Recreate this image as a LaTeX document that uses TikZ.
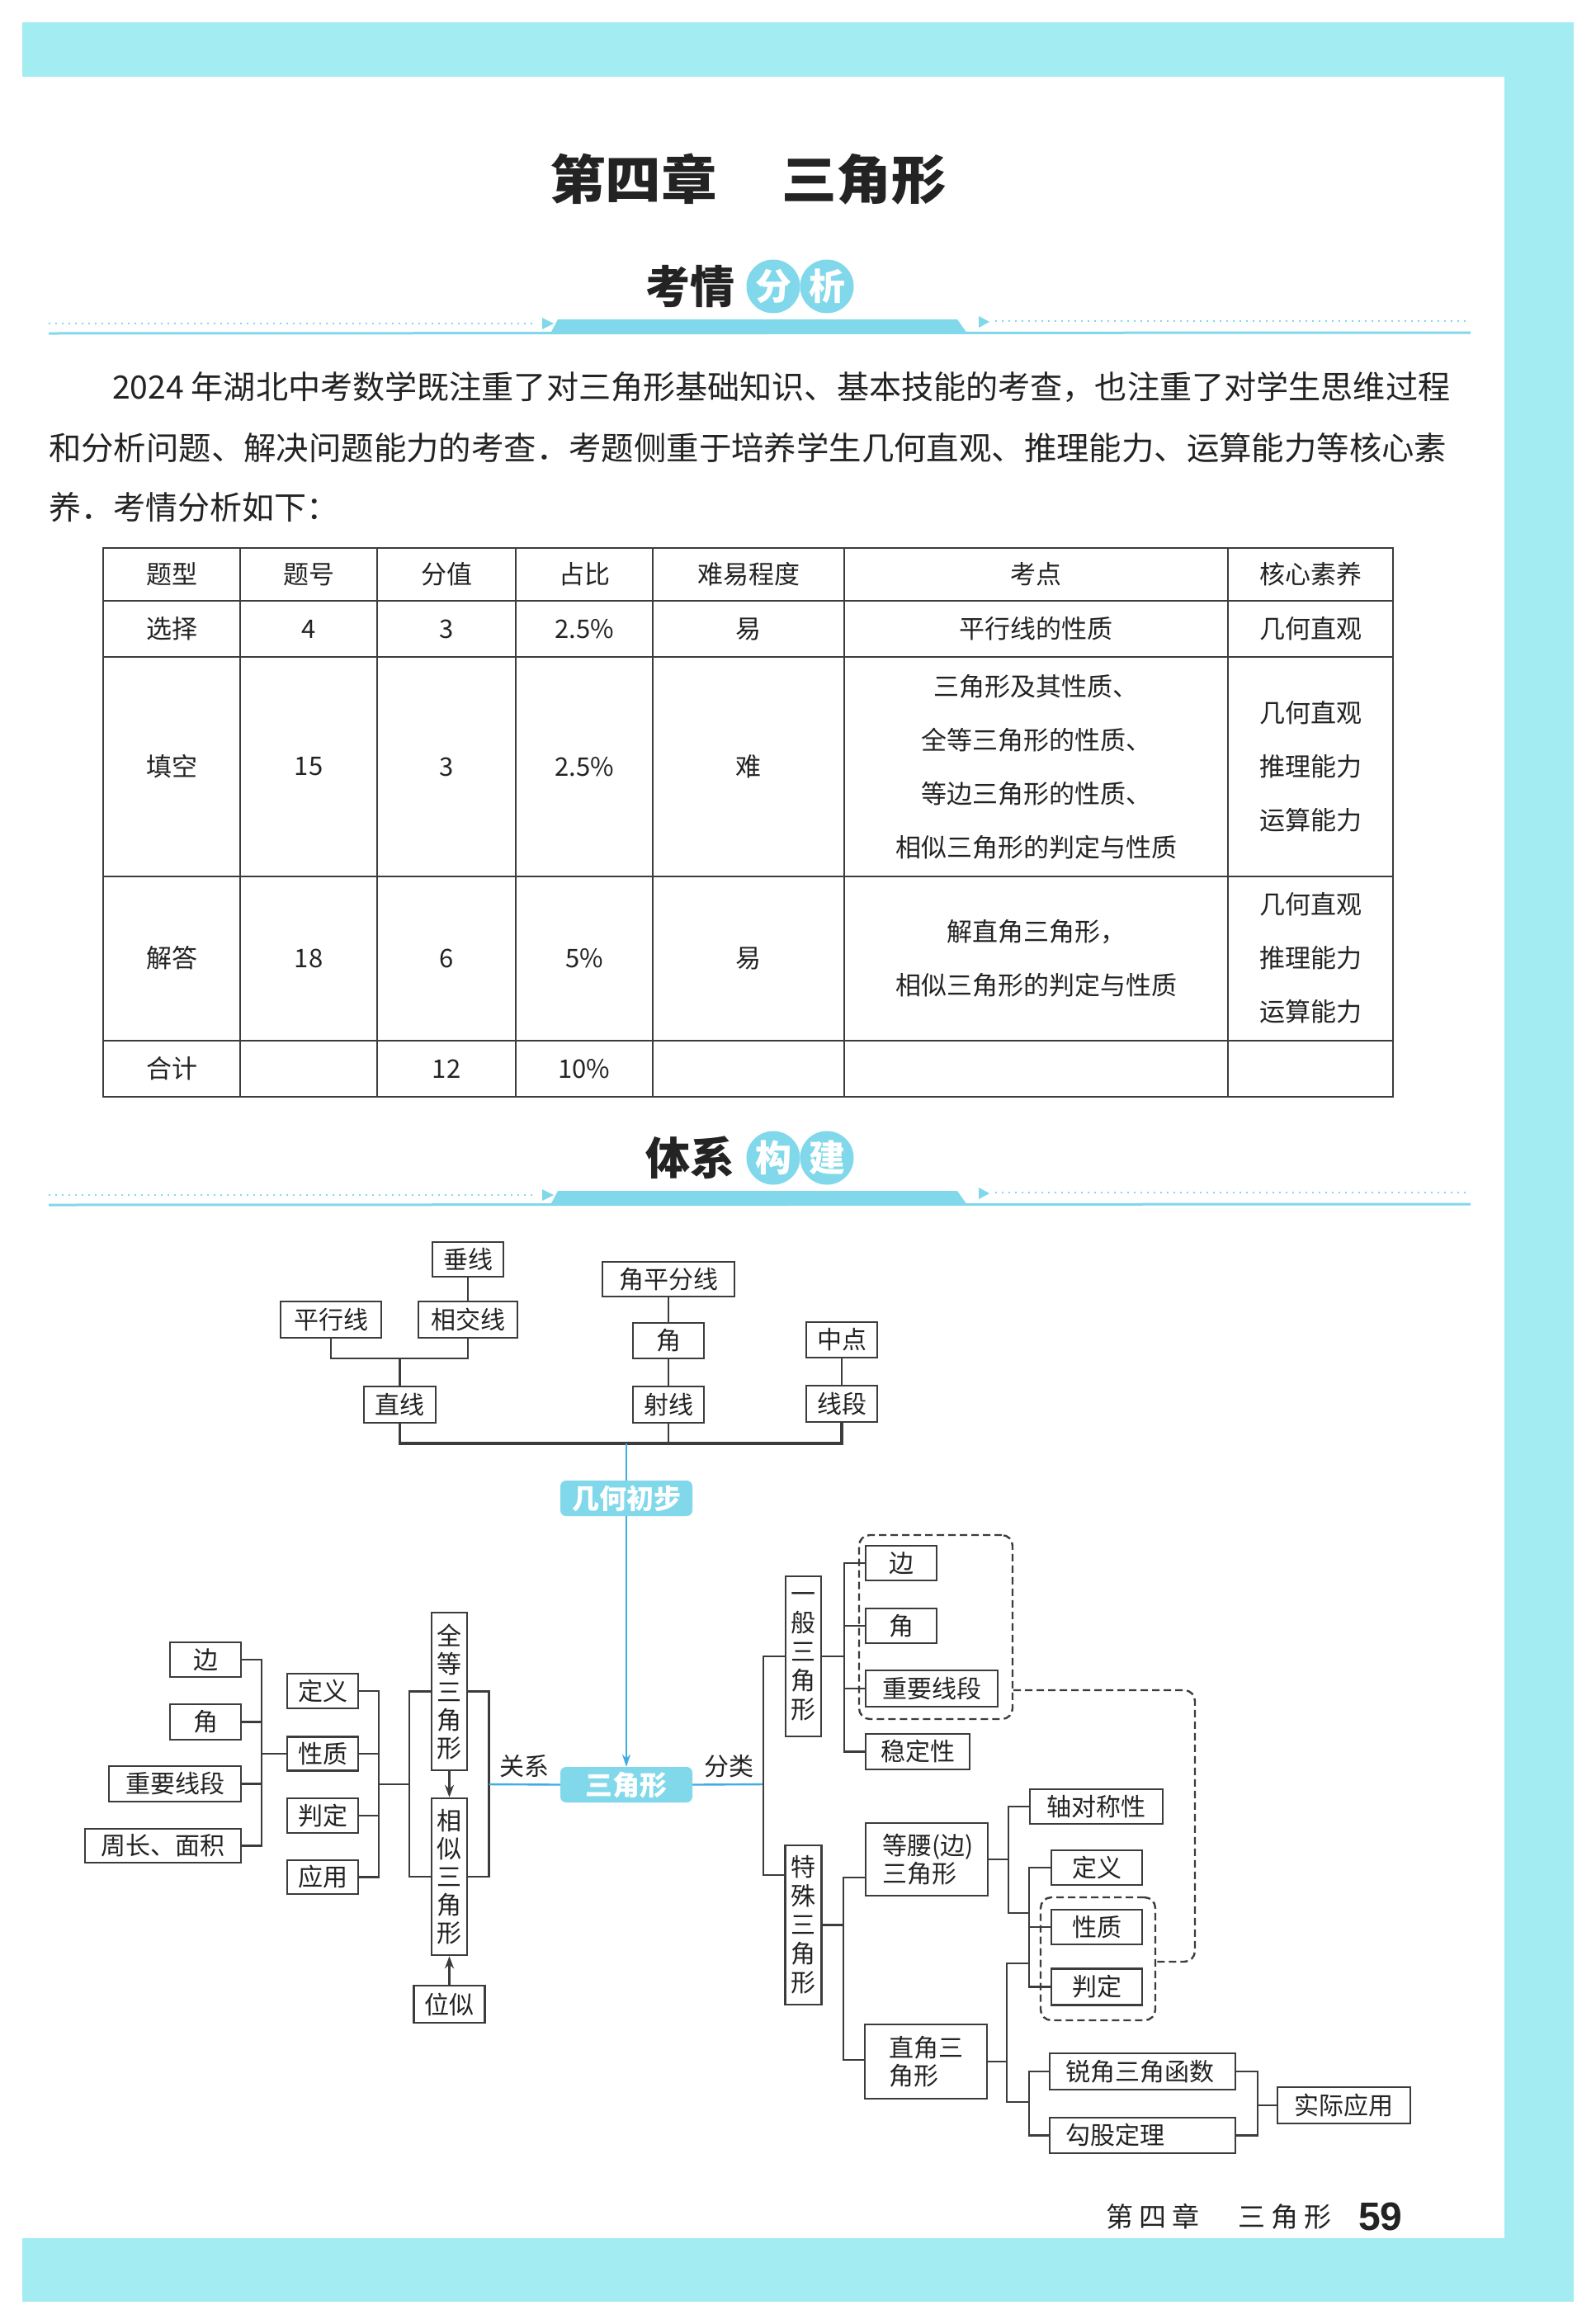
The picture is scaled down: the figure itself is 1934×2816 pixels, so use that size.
\documentclass[tikz,border=0pt]{standalone}
\usepackage{fontspec}
\usepackage{graphicx}
\setmainfont{Noto Sans CJK SC}
\newfontfamily\numfont{Liberation Sans}
\usetikzlibrary{arrows.meta}
\definecolor{pagecyan}{RGB}{163,236,242}
\definecolor{boxcyan}{RGB}{128,216,234}
\definecolor{linecyan}{RGB}{64,172,225}
\definecolor{ink}{RGB}{35,35,35}
\definecolor{rulec}{RGB}{60,60,60}
\newcommand\fsz[2]{\fontsize{#1pt}{#2pt}\selectfont}
\tikzset{
  bx/.style={draw=rulec, line width=2.6pt, inner sep=0pt, text=ink, font=\fsz{30}{35}, fill=white},
  conn/.style={draw=rulec, line width=2.4pt, line cap=rect},
  cline/.style={draw=linecyan, line width=2.4pt},
  cyanbox/.style={fill=boxcyan, rounded corners=7pt, inner sep=0pt, minimum width=160pt, minimum height=43pt, text=white, font=\fsz{33}{38}\bfseries},
  dashbox/.style={draw=rulec, line width=2.4pt, dash pattern=on 9pt off 5pt, rounded corners=13pt},
  tabline/.style={draw=rulec, line width=2.4pt},
  ttxt/.style={text=ink, font=\fsz{31}{65}, align=center, inner sep=0pt},
  arr/.style={-{Stealth[length=15pt,width=11pt]}},
}
\begin{document}
\begin{tikzpicture}[x=1pt,y=-1pt]
\useasboundingbox (0,0) rectangle (1934,2816);
\fill[white] (0,0) rectangle (1934,2816);
% page frame
\fill[pagecyan] (27,27) rectangle (1907,2789);
\fill[white] (27,93) rectangle (1823,2712);

% title
\node[text=ink, inner sep=0pt] (t1) at (767.5,217) {\resizebox{203pt}{\height}{\fsz{64}{70}\bfseries 第四章}};
\node[text=ink, inner sep=0pt] (t2) at (1047,217) {\resizebox{200pt}{\height}{\fsz{64}{70}\bfseries 三角形}};

% section header 1
\node[text=ink, inner sep=0pt, font=\fsz{54}{60}\bfseries] (h1) at (836.5,347) {考情};
\node[circle, fill=boxcyan, minimum size=65pt, inner sep=0pt, text=white, font=\fsz{44}{50}\bfseries] (h1a) at (937,347) {分};
\node[circle, fill=boxcyan, minimum size=65pt, inner sep=0pt, text=white, font=\fsz{44}{50}\bfseries] (h1b) at (1002,347) {析};
\draw[boxcyan, line width=2.5pt, dash pattern=on 2pt off 6pt] (59,392) -- (645,392);
\draw[boxcyan, line width=2.5pt, dash pattern=on 2pt off 6pt] (1206,389) -- (1782,389);
\fill[boxcyan] (657,385) -- (671,392) -- (657,399) -- cycle;
\fill[boxcyan] (1186,383) -- (1199,390) -- (1186,397) -- cycle;
\fill[boxcyan] (676,387) -- (1160,387) -- (1172,404) -- (667,404) -- cycle;
\draw[boxcyan, line width=3pt] (59,404) -- (1782,403);

% paragraph
\node[anchor=west, inner sep=0pt, text=ink] (p1) at (136,469) {\resizebox{1621pt}{\height}{\fsz{39}{40}2024 年湖北中考数学既注重了对三角形基础知识、基本技能的考查，也注重了对学生思维过程}};
\node[anchor=west, inner sep=0pt, text=ink] (p2) at (59,543) {\resizebox{1694pt}{\height}{\fsz{39}{40}和分析问题、解决问题能力的考查．考题侧重于培养学生几何直观、推理能力、运算能力等核心素}};
\node[anchor=west, inner sep=0pt, text=ink, font=\fsz{39}{40}] (p3) at (59,615) {养．考情分析如下：};

% table
\draw[tabline] (125,664) rectangle (1688,1329);
\foreach \yy in {728,796,1062,1261} \draw[tabline] (125,\yy) -- (1688,\yy);
\foreach \xx in {291,457,625,791,1023,1488} \draw[tabline] (\xx,664) -- (\xx,1329);
% header row
\node[ttxt] at (208,696) {题型};
\node[ttxt] at (374,696) {题号};
\node[ttxt] at (541,696) {分值};
\node[ttxt] at (708,696) {占比};
\node[ttxt] at (907,696) {难易程度};
\node[ttxt] at (1255.5,696) {考点};
\node[ttxt] at (1588,696) {核心素养};
% row 1
\node[ttxt] at (208,762) {选择};
\node[ttxt] at (374,762) {4};
\node[ttxt] at (541,762) {3};
\node[ttxt] at (708,762) {2.5\%};
\node[ttxt] at (907,762) {易};
\node[ttxt] at (1255.5,762) {平行线的性质};
\node[ttxt] at (1588,762) {几何直观};
% row 2
\node[ttxt] at (208,929) {填空};
\node[ttxt] at (374,929) {15};
\node[ttxt] at (541,929) {3};
\node[ttxt] at (708,929) {2.5\%};
\node[ttxt] at (907,929) {难};
\node[ttxt] at (1255.5,929) {三角形及其性质、\\全等三角形的性质、\\等边三角形的性质、\\相似三角形的判定与性质};
\node[ttxt] at (1588,929) {几何直观\\推理能力\\运算能力};
% row 3
\node[ttxt] at (208,1161) {解答};
\node[ttxt] at (374,1161) {18};
\node[ttxt] at (541,1161) {6};
\node[ttxt] at (708,1161) {5\%};
\node[ttxt] at (907,1161) {易};
\node[ttxt] at (1255.5,1161) {解直角三角形，\\相似三角形的判定与性质};
\node[ttxt] at (1588,1161) {几何直观\\推理能力\\运算能力};
% row 4
\node[ttxt] at (208,1295) {合计};
\node[ttxt] at (541,1295) {12};
\node[ttxt] at (708,1295) {10\%};

% section header 2
\node[text=ink, inner sep=0pt, font=\fsz{54}{60}\bfseries] (h2) at (836.5,1403) {体系};
\node[circle, fill=boxcyan, minimum size=65pt, inner sep=0pt, text=white, font=\fsz{44}{50}\bfseries] (h2a) at (937,1403) {构};
\node[circle, fill=boxcyan, minimum size=65pt, inner sep=0pt, text=white, font=\fsz{44}{50}\bfseries] (h2b) at (1002,1403) {建};
\draw[boxcyan, line width=2.5pt, dash pattern=on 2pt off 6pt] (59,1448) -- (645,1448);
\draw[boxcyan, line width=2.5pt, dash pattern=on 2pt off 6pt] (1206,1445) -- (1782,1445);
\fill[boxcyan] (657,1441) -- (671,1448) -- (657,1455) -- cycle;
\fill[boxcyan] (1186,1439) -- (1199,1446) -- (1186,1453) -- cycle;
\fill[boxcyan] (676,1443) -- (1160,1443) -- (1172,1460) -- (667,1460) -- cycle;
\draw[boxcyan, line width=3pt] (59,1460) -- (1782,1459);

% ---------- top tree ----------
\node[bx, minimum width=86pt, minimum height=42pt] (chuixian) at (567,1526) {垂线};
\node[bx, minimum width=122pt, minimum height=44pt] (pingxing) at (401,1599) {平行线};
\node[bx, minimum width=120pt, minimum height=44pt] (xiangjiao) at (567,1599) {相交线};
\node[bx, minimum width=160pt, minimum height=42pt] (jpfx) at (810,1550) {角平分线};
\node[bx, minimum width=86pt, minimum height=43pt] (tjiao) at (810,1624.5) {角};
\node[bx, minimum width=86pt, minimum height=43pt] (zhongdian) at (1020,1623.5) {中点};
\node[bx, minimum width=87pt, minimum height=44pt] (zhixian) at (484.5,1702) {直线};
\node[bx, minimum width=86pt, minimum height=44pt] (shexian) at (810,1702) {射线};
\node[bx, minimum width=86pt, minimum height=44pt] (xianduan) at (1020,1701) {线段};
\coordinate (jA) at (484.5,1646);
\coordinate (bus) at (759,1749);
\draw[conn] (chuixian) -- (xiangjiao);
\draw[conn] (pingxing.south) |- (jA) -| (xiangjiao.south);
\draw[conn] (jA) -- (zhixian.north);
\draw[conn] (jpfx) -- (tjiao);
\draw[conn] (tjiao) -- (shexian);
\draw[conn] (zhongdian) -- (xianduan);
\draw[conn, line width=3.2pt] (zhixian.south) |- (bus) -| (xianduan.south);
\draw[conn] (shexian.south) -- (shexian.south |- bus);

% centre
\node[cyanbox] (jhcb) at (759,1815.5) {几何初步};
\node[cyanbox] (sjx) at (759,2162.5) {三角形};
\draw[cline] (bus) -- (jhcb.north);
\draw[cline, -{Stealth[length=15pt,width=10pt]}] (jhcb.south) -- (sjx.north);
\node[text=ink, font=\fsz{30}{35}, inner sep=0pt] (lgx) at (635.5,2140) {关系};
\node[text=ink, font=\fsz{30}{35}, inner sep=0pt] (lfl) at (883.5,2140) {分类};

% ---------- left part ----------
\node[bx, minimum width=86pt, minimum height=42pt] (Lbian) at (249,2011) {边};
\node[bx, minimum width=86pt, minimum height=43pt] (Ljiao) at (249,2086.5) {角};
\node[bx, minimum width=160pt, minimum height=43pt] (Lzy) at (212,2161.5) {重要线段};
\node[bx, minimum width=189pt, minimum height=41pt] (Lzc) at (197.5,2236.5) {周长、面积};
\node[bx, minimum width=86pt, minimum height=42pt] (Ldy) at (391,2049) {定义};
\node[bx, minimum width=86pt, minimum height=41pt] (Lxz) at (391,2125) {性质};
\node[bx, minimum width=86pt, minimum height=42pt] (Lpd) at (391,2200) {判定};
\node[bx, minimum width=86pt, minimum height=41pt] (Lyy) at (391,2274.5) {应用};
\node[bx, minimum width=43pt, minimum height=191pt, align=center, font=\fsz{30}{34}] (quandeng) at (544.5,2049.5) {全\\等\\三\\角\\形};
\node[bx, minimum width=43pt, minimum height=190pt, align=center, font=\fsz{30}{34}] (xiangsi) at (544.5,2274) {相\\似\\三\\角\\形};
\node[bx, minimum width=86pt, minimum height=45pt] (weisi) at (544.5,2428.5) {位似};
\coordinate (bL1) at (317,2125);
\coordinate (bL2) at (459,2162);
\coordinate (bL3) at (496,2162);
\coordinate (bR) at (592.5,2162);
\draw[conn] (Lbian.east) -| (bL1 |- Lzc) -- (Lzc.east);
\draw[conn] (Ljiao.east) -- (Ljiao.east -| bL1);
\draw[conn] (Lzy.east) -- (Lzy.east -| bL1);
\draw[conn] (bL1) -- (Lxz.west);
\draw[conn] (Ldy.east) -| (bL2 |- Lyy) -- (Lyy.east);
\draw[conn] (Lxz.east) -- (Lxz.east -| bL2);
\draw[conn] (Lpd.east) -- (Lpd.east -| bL2);
\draw[conn] (bL2) -- (bL3);
\draw[conn] (quandeng.west) -| (bL3 |- xiangsi) -- (xiangsi.west);
\draw[conn] (quandeng.east) -| (bR |- xiangsi) -- (xiangsi.east);
\draw[conn, arr] (quandeng) -- (xiangsi);
\draw[conn, arr] (weisi) -- (xiangsi);
\draw[cline] (bR) -- (sjx.west);

% ---------- right part ----------
\node[bx, minimum width=43pt, minimum height=194pt, align=center, font=\fsz{30}{35}] (yiban) at (973.5,2007) {一\\般\\三\\角\\形};
\node[bx, minimum width=44pt, minimum height=193pt, align=center, font=\fsz{30}{35}] (teshu) at (973.5,2332.5) {特\\殊\\三\\角\\形};
\node[dashbox, minimum width=186pt, minimum height=223pt] (dg1) at (1134,1971.5) {};
\node[dashbox, minimum width=139pt, minimum height=149pt] (dg2) at (1330.5,2373.5) {};
\node[bx, minimum width=86pt, minimum height=42pt] (gbian) at (1092,1894) {边};
\node[bx, minimum width=86pt, minimum height=42pt] (gjiao) at (1092,1970) {角};
\node[bx, minimum width=160pt, minimum height=44pt] (gzy) at (1129,2046) {重要线段};
\node[bx, minimum width=126pt, minimum height=43pt] (gwdx) at (1112,2122.5) {稳定性};
\node[bx, inner xsep=20pt, text width=108pt, minimum height=88pt, align=left, font=\fsz{30}{34}] (dengyao) at (1123,2253) {等腰(边)\\三角形};
\node[bx, inner xsep=29pt, text width=90pt, minimum height=90pt, align=left, font=\fsz{30}{34}] (zhijiao) at (1122,2498) {直角三\\角形};
\node[bx, minimum width=161pt, minimum height=42pt] (zdc) at (1328.5,2189) {轴对称性};
\node[bx, minimum width=110pt, minimum height=42pt] (edy) at (1329,2263) {定义};
\node[bx, minimum width=110pt, minimum height=42pt] (exz) at (1329,2335) {性质};
\node[bx, minimum width=110pt, minimum height=44pt] (epd) at (1329,2407.5) {判定};
\node[bx, inner xsep=19pt, text width=187pt, minimum height=44pt, align=left] (ryj) at (1384.5,2510) {锐角三角函数};
\node[bx, inner xsep=19pt, text width=187pt, minimum height=43pt, align=left] (ggd) at (1384.5,2587.5) {勾股定理};
\node[bx, minimum width=161pt, minimum height=44pt] (sjyy) at (1628.5,2551) {实际应用};

\coordinate (bM) at (925,2162);
\coordinate (bMt) at (925,2007);
\coordinate (bMb) at (925,2272);
\draw[cline] (sjx.east) -- (bM);
\draw[conn] (yiban.west) -- (bMt) -- (bMb) -- (bMb -| teshu.west);
\coordinate (bG) at (1023,2007);
\draw[conn] (yiban.east) -- (bG);
\draw[conn] (gbian.west) -| (bG |- gwdx) -- (gwdx.west);
\draw[conn] (gjiao.west) -- (gjiao.west -| bG);
\draw[conn] (gzy.west) -- (gzy.west -| bG);
\coordinate (bT) at (1022,2332.5);
\coordinate (tA) at (1022,2275);
\coordinate (tB) at (1022,2496);
\draw[conn] (teshu.east) -- (bT);
\draw[conn] (dengyao.west |- tA) -- (tA) -- (tB) -- (zhijiao.west |- tB);
\coordinate (eB) at (1222,2318);
\coordinate (kx) at (1247,2318);
\draw[conn] (dengyao.east) -- (dengyao.east -| eB);
\draw[conn] (zdc.west) -| (eB) -- (kx);
\draw[conn] (edy.west) -| (kx |- epd) -- (epd.west);
\draw[conn] (exz.west) -- (exz.west -| kx);
\coordinate (zA) at (1220,2379);
\coordinate (zB) at (1220,2547);
\draw[conn] (zhijiao.east) -- (zhijiao.east -| zA);
\draw[conn] (zA -| kx) -- (zA) -- (zB) -- (zB -| kx);
\draw[conn] (ryj.west) -| (kx |- ggd) -- (ggd.west);
\coordinate (sA) at (1524,2551);
\draw[conn] (ryj.east) -| (sA |- ggd) -- (ggd.east);
\draw[conn] (sA) -- (sjyy.west);
\coordinate (dA) at (1448,2048);
\coordinate (dB) at (1448,2377);
\draw[dashbox] (dg1.east |- dA) -- (dA) -- (dB) -- (dg2.east |- dB);

% footer
\node[anchor=west, inner sep=0pt, text=ink, font=\fsz{33}{38}] (f1) at (1340,2686) {第\hspace{7pt}四\hspace{7pt}章};
\node[anchor=west, inner sep=0pt, text=ink, font=\fsz{33}{38}] (f2) at (1500,2686) {三\hspace{7pt}角\hspace{7pt}形};
\node[anchor=west, inner sep=0pt, text=ink, font=\fsz{48}{52}\numfont\bfseries] (f3) at (1646,2686) {59};
\end{tikzpicture}
\end{document}
